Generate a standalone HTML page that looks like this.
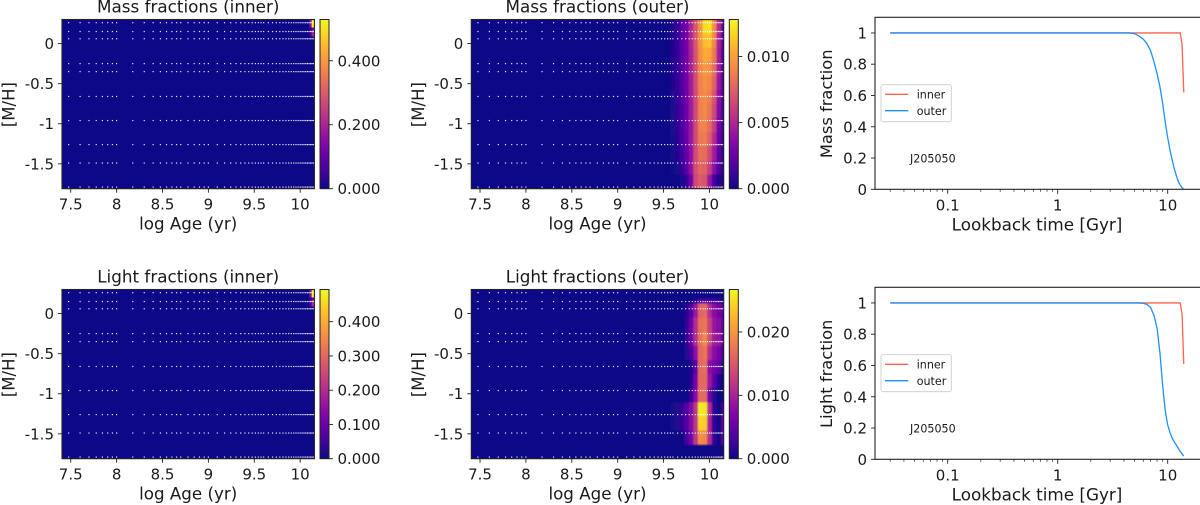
<!DOCTYPE html>
<html lang="en">
<head>
<meta charset="utf-8">
<title>Stellar population fractions J205050</title>
<style>
html,body{margin:0;padding:0;background:#fff;width:1200px;height:505px;overflow:hidden}
svg{display:block;filter:blur(0.35px)}
text{font-family:"DejaVu Sans","Liberation Sans",sans-serif;fill:#1a1a1a}
</style>
</head>
<body>
<svg id="figure" xmlns="http://www.w3.org/2000/svg" width="1200" height="505" viewBox="0 0 1200 505">
<defs>
<linearGradient id="plasma" x1="0" y1="1" x2="0" y2="0">
<stop offset="0" stop-color="#0d0887"/><stop offset="0.1" stop-color="#41049d"/><stop offset="0.2" stop-color="#6a00a8"/><stop offset="0.3" stop-color="#8f0da4"/><stop offset="0.4" stop-color="#b12a90"/><stop offset="0.5" stop-color="#cc4778"/><stop offset="0.6" stop-color="#e16462"/><stop offset="0.7" stop-color="#f2844b"/><stop offset="0.8" stop-color="#fca636"/><stop offset="0.9" stop-color="#fcce25"/><stop offset="1" stop-color="#f0f921"/>
</linearGradient>
<filter id="soften" x="-5%" y="-5%" width="110%" height="110%"><feGaussianBlur stdDeviation="0.8"/></filter>
</defs>
</svg>
<script>
// ---- shared grids ----
const ageGyr = [0.03,0.04,0.05,0.06,0.07,0.08,0.09,0.1,0.15,0.2,0.25,0.3,0.35,0.4,0.45,0.5,0.6,0.7,0.8,0.9,1,1.25,1.5,1.75,2,2.25,2.5,2.75,3,3.25,3.5,3.75,4,4.5,5,5.5,6,6.5,7,7.5,8,8.5,9,9.5,10,10.5,11,11.5,12,12.5,13,13.5,14];
const metallicities = [-1.79,-1.49,-1.26,-0.96,-0.66,-0.35,-0.25,0.06,0.15,0.26];
const logAgeTicks = ['7.5','8','8.5','9','9.5','10'];
const mhTicks = ['0','-0.5','-1','-1.5'];
const lookbackTicks = ['0.1','1','10'];
const lookbackMinor = [0.03,0.04,0.05,0.06,0.07,0.08,0.09,0.2,0.3,0.4,0.5,0.6,0.7,0.8,0.9,2,3,4,5,6,7,8,9];
const fractionTicks = ['0','0.2','0.4','0.6','0.8','1'];

// ---- heat-map bins ----
const outerAgeEdges = [9.575,9.625,9.675,9.725,9.775,9.825,9.875,9.925,9.975,10.025,10.075,10.125,10.175];
const massMhEdges = [0.3,0.124,-0.052,-0.228,-0.403,-0.579,-0.755,-0.931,-1.107,-1.282,-1.458,-1.634,-1.81];
const lightMhEdges = [0.3,0.19,0.124,-0.052,-0.228,-0.403,-0.579,-0.755,-0.931,-1.107,-1.282,-1.458,-1.634,-1.81];
const innerAgeEdges = [10.10,10.125,10.16];
const innerMhEdges = [0.3,0.2,0.17,0.09,0.06];

const massInner = [
 [0.15,0.53],
 [0.02,0.12],
 [0.05,0.20],
 [0,0.03]
];
const lightInner = [
 [0.14,0.49],
 [0.02,0.10],
 [0.05,0.20],
 [0,0.03]
];
const massOuter = [
 [.0005,.0010,.0020,.0030,.0050,.0072,.0095,.0120,.0122,.0092,.0052,.0025],
 [.0005,.0010,.0020,.0030,.0050,.0072,.0096,.0110,.0112,.0090,.0048,.0022],
 [.0005,.0010,.0019,.0030,.0048,.0070,.0093,.0104,.0102,.0085,.0046,.0020],
 [.0005,.0010,.0018,.0029,.0047,.0068,.0091,.0097,.0095,.0080,.0044,.0020],
 [.0005,.0010,.0018,.0029,.0046,.0067,.0088,.0094,.0091,.0076,.0042,.0020],
 [.0004,.0009,.0017,.0028,.0045,.0066,.0088,.0092,.0087,.0070,.0038,.0018],
 [.0004,.0009,.0017,.0027,.0044,.0066,.0088,.0092,.0084,.0064,.0034,.0016],
 [.0004,.0008,.0016,.0026,.0043,.0066,.0088,.0090,.0080,.0060,.0030,.0014],
 [.0003,.0007,.0015,.0025,.0042,.0066,.0085,.0086,.0074,.0052,.0027,.0012],
 [.0002,.0006,.0012,.0023,.0040,.0066,.0081,.0080,.0066,.0044,.0022,.0010],
 [.0001,.0004,.0009,.0020,.0040,.0068,.0078,.0076,.0060,.0036,.0018,.0008],
 [0,0,.0003,.0010,.0030,.0065,.0073,.0070,.0042,.0014,.0006,.0006]
];
const lightOuter = [
 [0,0,0,0,0,0,0,0,0,0,0,0],
 [0,0,0,0,0,.0015,.0030,.0035,.0030,.0025,.0020,0],
 [0,0,0,.0015,.0040,.0090,.0160,.0165,.0110,.0075,.0065,.0045],
 [0,0,0,.0020,.0055,.0110,.0170,.0175,.0130,.0085,.0075,.0055],
 [0,0,0,.0020,.0055,.0110,.0170,.0190,.0140,.0095,.0085,.0055],
 [0,0,0,.0010,.0035,.0080,.0165,.0175,.0110,.0075,.0065,.0035],
 [0,0,0,0,.0012,.0045,.0165,.0170,.0080,.0065,.0045,.0010],
 [0,0,0,0,.0012,.0065,.0165,.0165,.0090,.0045,.0012,0],
 [0,0,0,0,.0025,.0075,.0165,.0165,.0060,.0010,0,0],
 [.0005,.0010,.0020,.0040,.0070,.0120,.0260,.0255,.0110,.0020,0,.0030],
 [.0005,.0010,.0020,.0040,.0070,.0120,.0245,.0240,.0100,.0020,0,.0050],
 [0,0,0,.0030,.0060,.0120,.0195,.0190,.0110,.0020,0,.0050],
 [0,0,0,0,0,0,0,0,0,0,0,0]
];

// ---- cumulative curves (same length as ageGyr) ----
const cumMassInner = [1,1,1,1,1,1,1,1,1,1,1,1,1,1,1,1,1,1,1,1,1,1,1,1,1,1,1,1,1,1,1,1,1, 1,1,1,1,1,1,1,1,1,1,1,1,1,1,1,1,1,1,0.93,0.62];
const cumMassOuter = [1,1,1,1,1,1,1,1,1,1,1,1,1,1,1,1,1,1,1,1,1,1,1,1,1,1,1,1,1,1,1,1,1, 1,0.995,0.98,0.96,0.93,0.885,0.815,0.74,0.655,0.55,0.43,0.33,0.25,0.185,0.13,0.085,0.05,0.027,0.01,0];
const cumLightInner = [1,1,1,1,1,1,1,1,1,1,1,1,1,1,1,1,1,1,1,1,1,1,1,1,1,1,1,1,1,1,1,1,1, 1,1,1,1,1,1,1,1,1,1,1,1,1,1,1,1,1,1,0.93,0.61];
const cumLightOuter = [1,1,1,1,1,1,1,1,1,1,1,1,1,1,1,1,1,1,1,1,1,1,1,1,1,1,1,1,1,1,1,1,1, 1,1,1,0.997,0.99,0.97,0.92,0.84,0.68,0.47,0.31,0.22,0.17,0.135,0.11,0.09,0.07,0.05,0.035,0.02];

// ---- colour scale ----
const plasmaStops = ['#0d0887','#41049d','#6a00a8','#8f0da4','#b12a90','#cc4778','#e16462','#f2844b','#fca636','#fcce25','#f0f921'];
function plasma(t){
  t = Math.max(0, Math.min(1, t)) * 10;
  const i = Math.min(9, Math.floor(t)), f = t - i;
  const a = plasmaStops[i], b = plasmaStops[i + 1];
  const ch = s => [1, 3, 5].map(k => parseInt(s.substr(k, 2), 16));
  const A = ch(a), B = ch(b);
  return 'rgb(' + A.map((v, k) => Math.round(v + (B[k] - v) * f)).join(',') + ')';
}

const NS = 'http://www.w3.org/2000/svg';
const fig = document.getElementById('figure');
const INK = '#222';
function add(parent, tag, attrs){
  const el = document.createElementNS(NS, tag);
  for (const k in attrs) el.setAttribute(k, attrs[k]);
  parent.appendChild(el);
  return el;
}
function label(parent, x, y, str, size, anchor, rotated){
  const t = rotated
    ? 'translate(' + x + ',' + y + ') rotate(-90)'
    : 'translate(' + x + ',' + y + ')';
  const el = add(parent, 'text', {transform: t, 'font-size': size, 'text-anchor': anchor});
  el.textContent = str;
  return el;
}

let clipId = 0;
function heatPanel(cfg){
  const g = add(fig, 'g', {});
  
  
  const X0 = cfg.x, W = 252.4, Y0 = cfg.y, H = 169.2;
  const xMin = 7.405, xMax = 10.155, yMin = -1.81, yMax = 0.3;
  const sx = v => X0 + (v - xMin) / (xMax - xMin) * W;
  const sy = v => Y0 + (yMax - v) / (yMax - yMin) * H;

  const cid = 'clip' + (clipId++);
  const cp = add(g, 'clipPath', {id: cid});
  add(cp, 'rect', {x: X0, y: Y0, width: W, height: H});

  const plot = add(g, 'g', {'clip-path': 'url(#' + cid + ')'});
  
  
  const bg = add(plot, 'rect', {x: X0, y: Y0, width: W, height: H, fill: plasmaStops[0]});
  
  

  const cells = add(plot, 'g', cfg.soft ? {filter: 'url(#soften)'} : {});
  
  
  cfg.matrix.forEach((row, r) => {
    row.forEach((val, c) => {
      if (val <= 0) return;
      const x1 = sx(cfg.ageEdges[c]), x2 = sx(cfg.ageEdges[c + 1]);
      const y1 = sy(cfg.mhEdges[r]), y2 = sy(cfg.mhEdges[r + 1]);
      const cell = add(cells, 'rect', {x: x1, y: y1, width: x2 - x1 + 0.3, height: y2 - y1 + 0.3, fill: plasma(val / cfg.vmax)});
      
      
    });
  });

  metallicities.forEach(m => {
    ageGyr.forEach(a => {
      const dot = add(plot, 'rect', {x: sx(Math.log10(a * 1e9)) - 0.6, y: sy(m) - 0.6, width: 1.2, height: 1.2, fill: '#fff', 'fill-opacity': 0.9});
      
      
    });
  });

  const frame = add(g, 'rect', {x: X0, y: Y0, width: W, height: H, fill: 'none', stroke: INK, 'stroke-width': 1.1});
  
  

  logAgeTicks.forEach(s => {
    const v = parseFloat(s);
    const tick = add(g, 'line', {x1: sx(v), x2: sx(v), y1: Y0 + H, y2: Y0 + H + 4, stroke: INK, 'stroke-width': 0.9});
    
    
    const t = label(g, sx(v), Y0 + H + 20.8, s, 15, 'middle');
    
    
  });
  mhTicks.forEach(s => {
    const v = parseFloat(s);
    const tick = add(g, 'line', {x1: X0 - 4, x2: X0, y1: sy(v), y2: sy(v), stroke: INK, 'stroke-width': 0.9});
    
    
    const t = label(g, X0 - 8, sy(v) + 5.5, s, 15, 'end');
    
    
  });

  const title = label(g, X0 + W / 2, Y0 - 6.8, cfg.title, 16.8, 'middle');
  
  
  const xl = label(g, X0 + W / 2, Y0 + H + 41, 'log Age (yr)', 16.7, 'middle');
  
  
  const yl = label(g, X0 - 47.5, Y0 + H / 2 + 0.5, '[M/H]', 16.5, 'middle', true);
  
  

  // colour bar
  const cbX = X0 + W + 5.6, cbW = 9;
  const sc = v => Y0 + H - v / cfg.vmax * H;
  const cb = add(g, 'rect', {x: cbX, y: Y0, width: cbW, height: H, fill: 'url(#plasma)', stroke: INK, 'stroke-width': 1});
  
  
  cfg.cbTicks.forEach(s => {
    const v = parseFloat(s);
    const tick = add(g, 'line', {x1: cbX + cbW, x2: cbX + cbW + 4, y1: sc(v), y2: sc(v), stroke: INK, 'stroke-width': 0.9});
    
    
    const t = label(g, cbX + cbW + 8.5, sc(v) + 5.5, s, 15, 'start');
    
    
  });
}

function curvePanel(cfg){
  const g = add(fig, 'g', {});
  
  
  const X0 = 875, W = 324, Y0 = cfg.y, H = 172;
  const sx = v => 1057.7 + Math.log10(v) * 110;
  const sy = v => Y0 + H - v / 1.1 * H;

  const pathOf = arr => ageGyr.map((a, i) => (i ? 'L' : 'M') + sx(a).toFixed(2) + ' ' + sy(arr[i]).toFixed(2)).join('');
  const inner = add(g, 'path', {d: pathOf(cfg.inner), fill: 'none', stroke: '#ff6347', 'stroke-width': 1.3});
  
  
  const outer = add(g, 'path', {d: pathOf(cfg.outer), fill: 'none', stroke: '#1e90ff', 'stroke-width': 1.3});
  
  

  const frame = add(g, 'rect', {x: X0, y: Y0, width: W + 2, height: H, fill: 'none', stroke: INK, 'stroke-width': 1.1});
  
  

  lookbackMinor.forEach(v => {
    const tick = add(g, 'line', {x1: sx(v), x2: sx(v), y1: Y0 + H, y2: Y0 + H + 2.5, stroke: INK, 'stroke-width': 0.7});
    
    
  });
  lookbackTicks.forEach(s => {
    const v = parseFloat(s);
    const tick = add(g, 'line', {x1: sx(v), x2: sx(v), y1: Y0 + H, y2: Y0 + H + 4.5, stroke: INK, 'stroke-width': 0.9});
    
    
    const t = label(g, sx(v), Y0 + H + 21, s, 15, 'middle');
    
    
  });
  fractionTicks.forEach(s => {
    const v = parseFloat(s);
    const tick = add(g, 'line', {x1: X0 - 4, x2: X0, y1: sy(v), y2: sy(v), stroke: INK, 'stroke-width': 0.9});
    
    
    const t = label(g, X0 - 8, sy(v) + 5.5, s, 15, 'end');
    
    
  });

  const xl = label(g, 1037, Y0 + H + 41, 'Lookback time [Gyr]', 16.8, 'middle');
  
  
  const yl = label(g, 832, Y0 + H / 2 + 0.5, cfg.ylabel, 16.3, 'middle', true);
  
  

  const note = label(g, 910, Y0 + 145, 'J205050', 11.1, 'start');
  
  

  const legend = add(g, 'g', {});
  
  
  const box = add(legend, 'rect', {x: 881, y: Y0 + 67.4, width: 70.3, height: 37, rx: 2, fill: '#fff', 'fill-opacity': 0.8, stroke: '#ccc', 'stroke-width': 0.9});
  
  
  const l1 = add(legend, 'line', {x1: 885, x2: 908.3, y1: Y0 + 77, y2: Y0 + 77, stroke: '#ff6347', 'stroke-width': 1.3});
  
  
  const t1 = label(legend, 916.7, Y0 + 81, 'inner', 11.1, 'start');
  
  
  const l2 = add(legend, 'line', {x1: 885, x2: 908.3, y1: Y0 + 93.4, y2: Y0 + 93.4, stroke: '#1e90ff', 'stroke-width': 1.3});
  
  
  const t2 = label(legend, 916.7, Y0 + 97.5, 'outer', 11.1, 'start');
  
  
}

heatPanel({name:'mass-inner-panel', title:'Mass fractions (inner)', x:62, y:19.5, vmax:0.529, matrix:massInner, ageEdges:innerAgeEdges, mhEdges:innerMhEdges, cbTicks:['0.000','0.200','0.400'], soft:false});
heatPanel({name:'mass-outer-panel', title:'Mass fractions (outer)', x:471.3, y:19.5, vmax:0.0128, matrix:massOuter, ageEdges:outerAgeEdges, mhEdges:massMhEdges, cbTicks:['0.000','0.005','0.010'], soft:true});
heatPanel({name:'light-inner-panel', title:'Light fractions (inner)', x:62, y:289.5, vmax:0.494, matrix:lightInner, ageEdges:innerAgeEdges, mhEdges:innerMhEdges, cbTicks:['0.000','0.100','0.200','0.300','0.400'], soft:false});
heatPanel({name:'light-outer-panel', title:'Light fractions (outer)', x:471.3, y:289.5, vmax:0.0267, matrix:lightOuter, ageEdges:outerAgeEdges, mhEdges:lightMhEdges, cbTicks:['0.000','0.010','0.020'], soft:true});
curvePanel({name:'mass-cumulative-panel', y:17.3, ylabel:'Mass fraction', inner:cumMassInner, outer:cumMassOuter});
curvePanel({name:'light-cumulative-panel', y:287.3, ylabel:'Light fraction', inner:cumLightInner, outer:cumLightOuter});
</script>
</body>
</html>
